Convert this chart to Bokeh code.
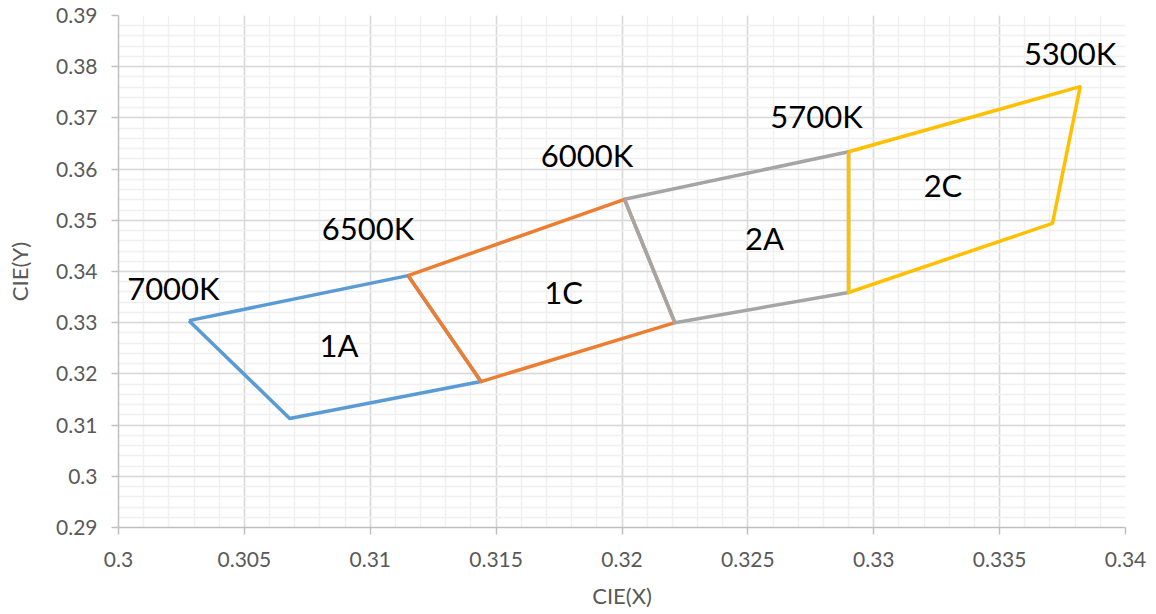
from bokeh.plotting import figure
from bokeh.models import FixedTicker, ColumnDataSource, Range1d
from bokeh.core.properties import value
from bokeh.embed import file_html
from bokeh.resources import INLINE

# Quadrangle series (closed polygons)
x_1A = [0.3028, 0.3115, 0.3144, 0.3068, 0.3028]
y_1A = [0.3304, 0.3392, 0.3185, 0.3113, 0.3304]
x_1C = [0.3115, 0.3201, 0.3221, 0.3144, 0.3115]
y_1C = [0.3392, 0.3541, 0.3300, 0.3185, 0.3392]
x_2A = [0.3201, 0.3290, 0.3290, 0.3221, 0.3201]
y_2A = [0.3541, 0.3634, 0.3359, 0.3300, 0.3541]
x_2C = [0.3290, 0.3382, 0.3371, 0.3290, 0.3290]
y_2C = [0.3634, 0.3761, 0.3494, 0.3359, 0.3634]

series_names = ["1A", "1C", "2A", "2C"]
series_colors = ["#5B9BD5", "#ED7D31", "#A5A5A5", "#FFC000"]

# Annotation labels
label_text = ["7000K", "6500K", "6000K", "5700K", "5300K", "1A", "1C", "2A", "2C"]
label_x = [0.30218, 0.30991, 0.31861, 0.32773, 0.33780, 0.30876, 0.31768, 0.32566, 0.33275]
label_y = [0.33668, 0.34859, 0.36266, 0.37037, 0.38268, 0.32574, 0.33600, 0.34645, 0.35680]

x_ticks = [0.3, 0.305, 0.31, 0.315, 0.32, 0.325, 0.33, 0.335, 0.34]
x_tick_labels = ["0.3", "0.305", "0.31", "0.315", "0.32", "0.325", "0.33", "0.335", "0.34"]
y_ticks = [0.29, 0.3, 0.31, 0.32, 0.33, 0.34, 0.35, 0.36, 0.37, 0.38, 0.39]
y_tick_labels = ["0.29", "0.3", "0.31", "0.32", "0.33", "0.34", "0.35", "0.36", "0.37", "0.38", "0.39"]
x_minor = [round(0.3 + i * 0.001, 3) for i in range(41)]
y_minor = [round(0.29 + i * 0.002, 3) for i in range(51)]

p = figure(width=1150, height=614, output_backend="svg", toolbar_location=None,
           x_range=Range1d(0.3, 0.34), y_range=Range1d(0.29, 0.39),
           min_border_left=118, min_border_right=25, min_border_top=15, min_border_bottom=87)
p.outline_line_color = None
p.background_fill_color = "white"

FONT = "Lato"
TICK_COLOR = "#595959"

p.xaxis.ticker = FixedTicker(ticks=x_ticks, minor_ticks=x_minor)
p.yaxis.ticker = FixedTicker(ticks=y_ticks, minor_ticks=y_minor)
p.xaxis.major_label_overrides = {t: l for t, l in zip(x_ticks, x_tick_labels)}
p.yaxis.major_label_overrides = {t: l for t, l in zip(y_ticks, y_tick_labels)}

for ax in (p.xaxis, p.yaxis):
    ax.axis_line_color = "#BFBFBF"
    ax.axis_line_width = 1.5
    ax.major_tick_line_color = "#BFBFBF"
    ax.major_tick_line_width = 1.5
    ax.major_tick_out = 7
    ax.major_tick_in = 0
    ax.minor_tick_line_color = None
    ax.major_label_text_font = FONT
    ax.major_label_text_font_size = "21px"
    ax.major_label_text_color = TICK_COLOR
    ax.axis_label_text_font = FONT
    ax.axis_label_text_font_size = "22px"
    ax.axis_label_text_color = TICK_COLOR
    ax.axis_label_text_font_style = "normal"

p.xaxis.axis_label = "CIE(X)"
p.yaxis.axis_label = "CIE(Y)"
p.xaxis.major_label_standoff = 17
p.yaxis.major_label_standoff = 14
p.xaxis.axis_label_standoff = 12
p.yaxis.axis_label_standoff = 20

p.xgrid.grid_line_color = "#D9D9D9"
p.ygrid.grid_line_color = "#D9D9D9"
p.xgrid.grid_line_width = 1.5
p.ygrid.grid_line_width = 1.5
p.xgrid.minor_grid_line_color = "#F0F0F0"
p.ygrid.minor_grid_line_color = "#F0F0F0"
p.xgrid.minor_grid_line_width = 1.5
p.ygrid.minor_grid_line_width = 1.5

xs = [x_1A, x_1C, x_2A, x_2C]
ys = [y_1A, y_1C, y_2A, y_2C]
for xv, yv, name, color in zip(xs, ys, series_names, series_colors):
    p.line(xv, yv, line_color=color, line_width=3.5, line_join="round")

src = ColumnDataSource(dict(x=label_x, y=label_y, t=label_text))
p.text(x="x", y="y", text="t", source=src, text_font=value(FONT),
       text_font_size="31px", text_color="black", text_align="center",
       text_baseline="middle")

open("out.html", "w").write(file_html(p, INLINE))
